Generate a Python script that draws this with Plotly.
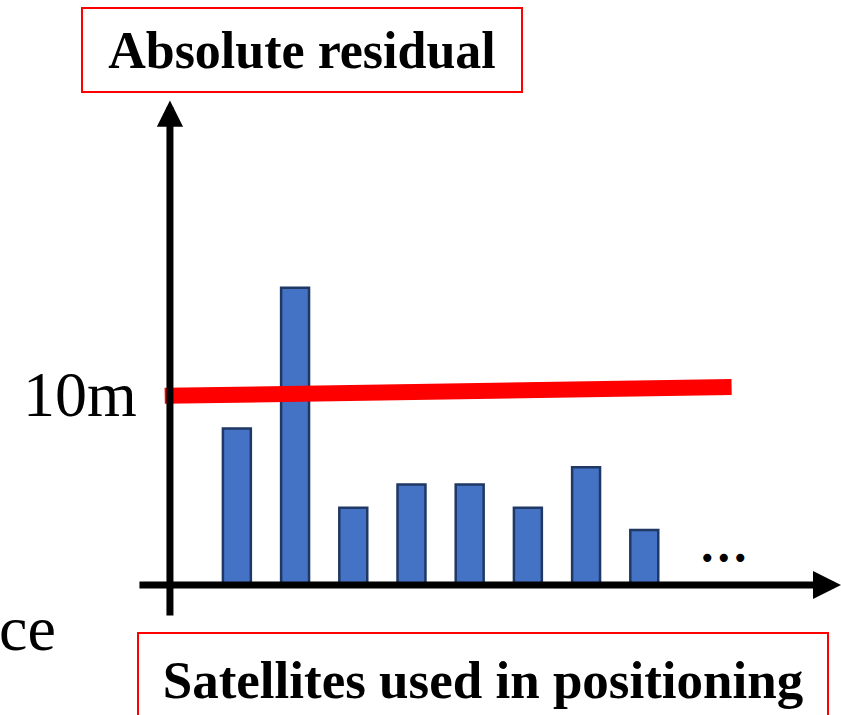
import plotly.graph_objects as go

# Absolute residual per satellite (m) and the 10 m rejection threshold
satellites = [1, 2, 3, 4, 5, 6, 7, 8]
residual_m = [8.1, 15.4, 4.0, 5.2, 5.2, 4.0, 6.1, 2.85]
threshold_x = [-0.24, 9.5]
threshold_m = [9.8, 10.26]

threshold_label = "10m"
y_title = "Absolute residual"
x_title = "Satellites used in positioning"

W, H = 841, 715
X_RANGE = [-3.07, 11.38]
Y_RANGE = [-6.74, 30.31]
ORIGIN_X = -0.15

serif = "Liberation Serif, Times New Roman, serif"

fig = go.Figure()

fig.add_trace(go.Bar(
    x=satellites, y=residual_m, width=0.48,
    marker=dict(color="#4472C4", line=dict(color="#1F3864", width=2.5)),
    hoverinfo="skip",
))

fig.add_trace(go.Scatter(
    x=threshold_x, y=threshold_m, mode="lines",
    line=dict(color="#FF0000", width=16),
    hoverinfo="skip",
))

annotations = [
    # y axis with arrow head
    dict(x=ORIGIN_X, y=25.1, ax=ORIGIN_X, ay=-1.66, xref="x", yref="y",
         axref="x", ayref="y", text="", showarrow=True, arrowhead=2,
         arrowsize=0.75, arrowwidth=7, arrowcolor="black"),
    # x axis with arrow head
    dict(x=11.38, y=0, ax=-0.7, ay=0, xref="x", yref="y",
         axref="x", ayref="y", text="", showarrow=True, arrowhead=2,
         arrowsize=0.8, arrowwidth=7, arrowcolor="black"),
    # threshold label
    dict(x=139 / W, y=1 - 395 / H, xref="paper", yref="paper",
         xanchor="right", yanchor="middle", text=threshold_label,
         showarrow=False, font=dict(family=serif, size=64, color="black")),
    # text running in from the left edge
    dict(x=58 / W, y=1 - 628 / H, xref="paper", yref="paper",
         xanchor="right", yanchor="middle", text="ce",
         showarrow=False, font=dict(family=serif, size=64, color="black")),
    # continuation dots
    dict(x=724 / W, y=1 - 558 / H, xref="paper", yref="paper",
         xanchor="center", yanchor="middle", text="•••",
         showarrow=False, font=dict(family="DejaVu Sans", size=28, color="black")),
    # boxed titles
    dict(x=302 / W, y=1 - 50 / H, xref="paper", yref="paper",
         xanchor="center", yanchor="middle", text="<b>%s</b>" % y_title,
         showarrow=False, width=438, height=82, borderpad=0,
         bordercolor="#FF0000", borderwidth=2,
         font=dict(family=serif, size=52, color="black")),
    dict(x=483 / W, y=1 - 680 / H, xref="paper", yref="paper",
         xanchor="center", yanchor="middle", text="<b>%s</b>" % x_title,
         showarrow=False, width=688, height=92, borderpad=0,
         bordercolor="#FF0000", borderwidth=2,
         font=dict(family=serif, size=53, color="black")),
]

fig.update_layout(
    width=W, height=H,
    margin=dict(l=0, r=0, t=0, b=0),
    paper_bgcolor="white", plot_bgcolor="white",
    showlegend=False,
    xaxis=dict(range=X_RANGE, visible=False, fixedrange=True),
    yaxis=dict(range=Y_RANGE, visible=False, fixedrange=True),
    annotations=annotations,
)

fig.write_html("out.html", config={"displayModeBar": False})
